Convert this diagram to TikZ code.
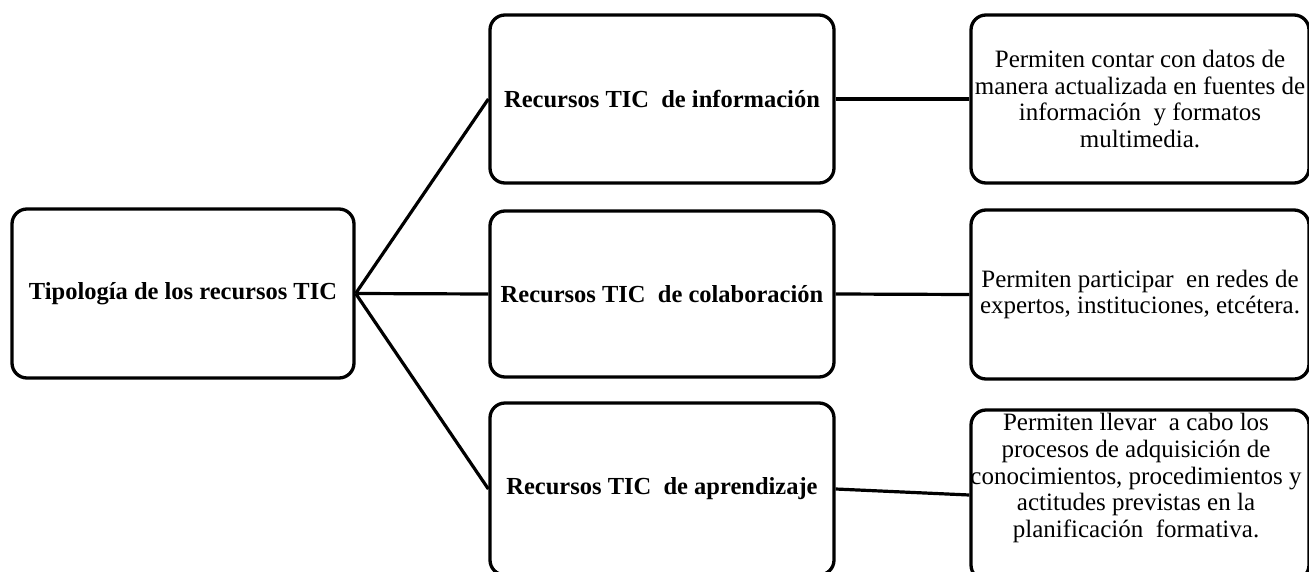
\documentclass[tikz,border=0pt]{standalone}
\usepackage{fontspec}
\setmainfont{Liberation Serif}
\usepackage{tikz}

\tikzset{
  box/.style={draw, line width=3.3pt, rounded corners=15pt, inner sep=0pt, align=center},
  titlebox/.style={box, font=\fontsize{24.5}{27}\selectfont\bfseries},
  notebox/.style={box, font=\fontsize{25}{26.8}\selectfont},
  notetext/.style={inner sep=0pt, align=center, font=\fontsize{25}{26.8}\selectfont},
  link/.style={line width=3.2pt}
}

\begin{document}
\begin{tikzpicture}[x=1pt,y=1pt,yscale=-1,xscale=1]
\useasboundingbox (0,0) rectangle (1309,571);

%Root box
\node [titlebox, minimum width=342pt, minimum height=169pt] (tipo) at (183,293.5) {Tipología de los recursos TIC};

%Middle column
\node [titlebox, minimum width=344pt, minimum height=168pt] (info) at (662,99) {Recursos TIC\ \ de información};
\node [titlebox, minimum width=344pt, minimum height=166pt] (colab) at (662,294) {Recursos TIC\ \ de colaboración};
\node [titlebox, minimum width=344pt, minimum height=172pt] (apren) at (662,489) {Recursos TIC\ \ de aprendizaje};

%Right column
\node [notebox, minimum width=338pt, minimum height=168pt] (dinfo) at (1140,99) {Permiten contar con datos de\\manera actualizada en fuentes de\\información\ \ y formatos\\multimedia.};
\node [notebox, minimum width=338pt, minimum height=169pt] (dcolab) at (1140,294.5) {Permiten participar\ \ en redes de\\expertos, instituciones, etcétera.};
\node [box, minimum width=338pt, minimum height=170pt] (dapren) at (1140,495) {};
\node [notetext] (tapren) at (1136,478) {Permiten llevar\ \ a cabo los\\procesos de adquisición de\\conocimientos, procedimientos y\\actitudes previstas en la\\planificación\ \ formativa.};

% Connections
\draw [link] (tipo.east) -- (info.west);
\draw [link] (tipo.east) -- (colab.west);
\draw [link] (tipo.east) -- (apren.west);
\draw [link] (info.east) -- (dinfo.west);
\draw [link] (colab.east) -- (dcolab.west);
\draw [link] (apren.east) -- (dapren.west);

\end{tikzpicture}
\end{document}
